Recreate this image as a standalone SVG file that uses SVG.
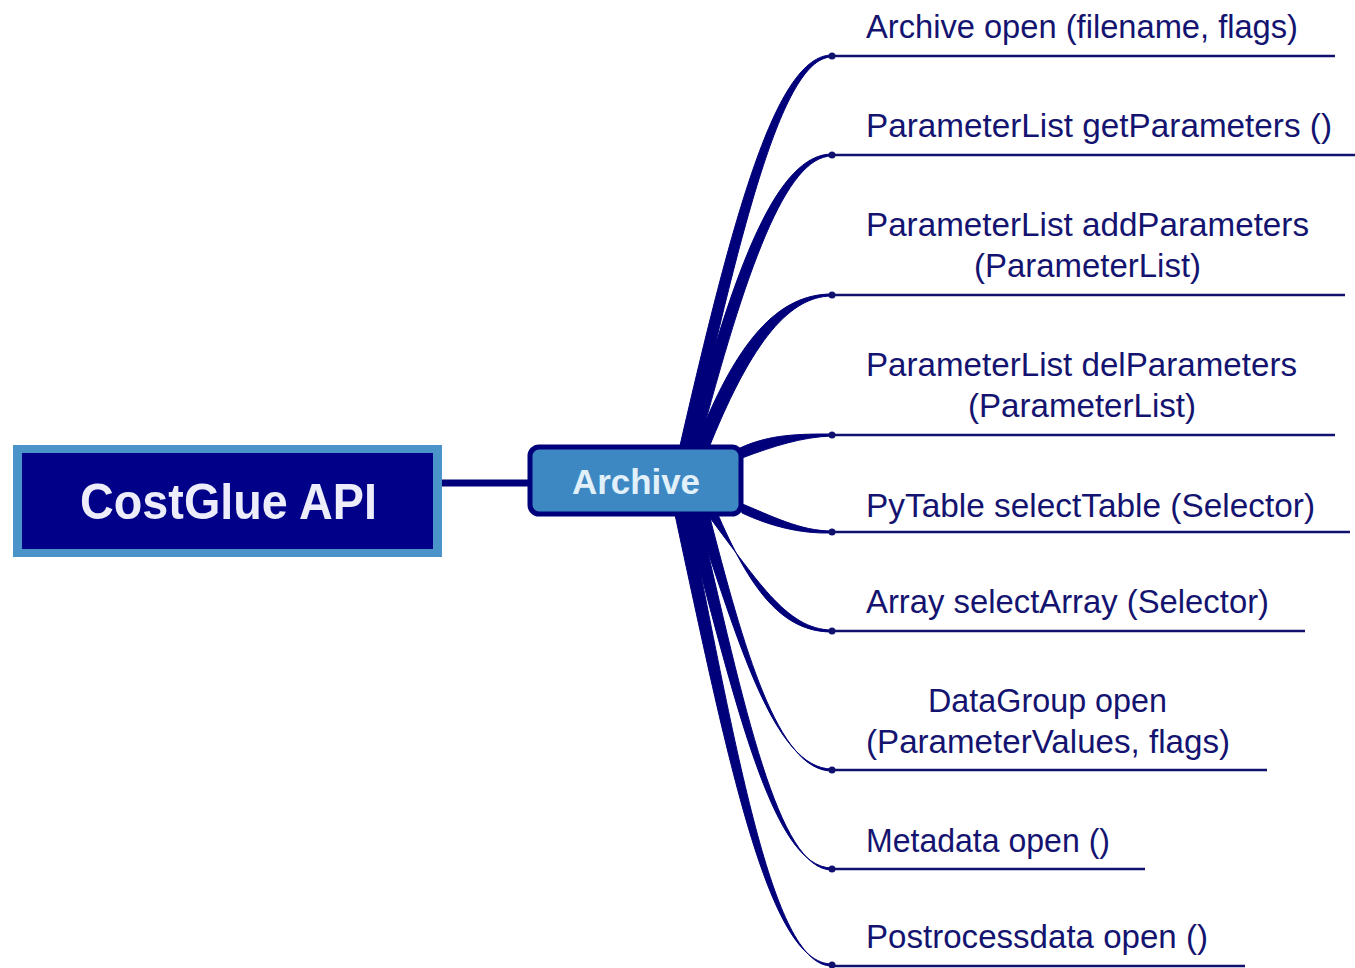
<svg xmlns="http://www.w3.org/2000/svg" width="1355" height="968" viewBox="0 0 1355 968">
  <defs>
    <style>
      .branch { fill: #00007a; stroke: #00007a; stroke-width: 1; stroke-linejoin: round; }
      .rule { stroke: #10106e; stroke-width: 2.5; fill: none; }
      .dot { fill: #10106e; }
      .label { font-family: "Liberation Sans", Arial, sans-serif; font-size: 34px; fill: #141470; }
      .title { font-family: "Liberation Sans", Arial, sans-serif; font-weight: bold; }
    </style>
  </defs>
  <rect width="1355" height="968" fill="#ffffff"/>

  <!-- tapered branches from the Archive node to each method -->
  <g id="connectors">
    <line x1="440" y1="483" x2="532" y2="483" stroke="#00007a" stroke-width="7"/>
    <!-- upward branches -->
    <path class="branch" d="M679,450 C733,215 776,55 832,55 L832,57 C784,57 744,215 691,450 Z"/>
    <path class="branch" d="M686,450 C735,262 778,154 832,154 L832,156 C786,156 746,268 698,450 Z"/>
    <path class="branch" d="M694,450 C736,340 778,294 832,294 L832,296 C786,296 748,350 708,450 Z"/>
    <path class="branch" d="M740,448 C770,434 800,434 832,434 L832,436 C802,437 774,446 742,458 Z"/>
    <!-- downward branches -->
    <path class="branch" d="M740,503 C772,516 800,531 832,531 L832,533 C800,534 770,526 742,513 Z"/>
    <path class="branch" d="M704,510 C756,578 786,630 832,630 L832,632 C782,632 750,590 716,510 Z"/>
    <path class="branch" d="M694,510 C738,640 774,769 832,769 L832,771 C778,771 744,650 708,510 Z"/>
    <path class="branch" d="M684,510 C735,700 772,868 832,868 L832,870 C778,870 745,710 698,510 Z"/>
    <path class="branch" d="M674,510 C728,760 768,964 832,964 L832,966 C774,966 740,770 688,510 Z"/>
    <!-- underlines and end dots -->
    <line class="rule" x1="832" y1="56" x2="1335" y2="56"/>
    <line class="rule" x1="832" y1="155" x2="1355" y2="155"/>
    <line class="rule" x1="832" y1="295" x2="1345" y2="295"/>
    <line class="rule" x1="832" y1="435" x2="1335" y2="435"/>
    <line class="rule" x1="832" y1="532" x2="1350" y2="532"/>
    <line class="rule" x1="832" y1="631" x2="1305" y2="631"/>
    <line class="rule" x1="832" y1="770" x2="1267" y2="770"/>
    <line class="rule" x1="832" y1="869" x2="1145" y2="869"/>
    <line class="rule" x1="832" y1="966" x2="1245" y2="966" stroke="#6a6ab0"/>
    <circle class="dot" cx="832" cy="56" r="3.5"/>
    <circle class="dot" cx="832" cy="155" r="3.5"/>
    <circle class="dot" cx="832" cy="295" r="3.5"/>
    <circle class="dot" cx="832" cy="435" r="3.5"/>
    <circle class="dot" cx="832" cy="532" r="3.5"/>
    <circle class="dot" cx="832" cy="631" r="3.5"/>
    <circle class="dot" cx="832" cy="770" r="3.5"/>
    <circle class="dot" cx="832" cy="869" r="3.5"/>
    <circle class="dot" cx="832" cy="965" r="3.5"/>
  </g>

  <g id="costglue-api">
    <rect x="13" y="445" width="429" height="112" fill="#4b94c9"/>
    <rect x="22" y="453" width="411" height="96" fill="#000088"/>
    <text class="title" x="80" y="519" font-size="50" fill="#ececfa" textLength="297" lengthAdjust="spacingAndGlyphs">CostGlue API</text>
  </g>

  <g id="archive">
    <rect x="530" y="447" width="211" height="67" rx="9" fill="#3d88c2" stroke="#00007a" stroke-width="5"/>
    <text class="title" x="572" y="494" font-size="35" fill="#e2f0fa" textLength="128" lengthAdjust="spacingAndGlyphs">Archive</text>
  </g>

  <g id="m-archive-open">
    <text class="label" x="866" y="38" textLength="432" lengthAdjust="spacingAndGlyphs">Archive open (filename, flags)</text>
  </g>
  <g id="m-get-parameters">
    <text class="label" x="866" y="137" textLength="466" lengthAdjust="spacingAndGlyphs">ParameterList getParameters ()</text>
  </g>
  <g id="m-add-parameters">
    <text class="label" x="866" y="236" textLength="443" lengthAdjust="spacingAndGlyphs">ParameterList addParameters</text>
    <text class="label" x="974" y="277" textLength="227" lengthAdjust="spacingAndGlyphs">(ParameterList)</text>
  </g>
  <g id="m-del-parameters">
    <text class="label" x="866" y="376" textLength="431" lengthAdjust="spacingAndGlyphs">ParameterList delParameters</text>
    <text class="label" x="968" y="417" textLength="228" lengthAdjust="spacingAndGlyphs">(ParameterList)</text>
  </g>
  <g id="m-select-table">
    <text class="label" x="866" y="517" textLength="449" lengthAdjust="spacingAndGlyphs">PyTable selectTable (Selector)</text>
  </g>
  <g id="m-select-array">
    <text class="label" x="866" y="613" textLength="403" lengthAdjust="spacingAndGlyphs">Array selectArray (Selector)</text>
  </g>
  <g id="m-datagroup-open">
    <text class="label" x="928" y="712" textLength="239" lengthAdjust="spacingAndGlyphs">DataGroup open</text>
    <text class="label" x="866" y="753" textLength="364" lengthAdjust="spacingAndGlyphs">(ParameterValues, flags)</text>
  </g>
  <g id="m-metadata-open">
    <text class="label" x="866" y="852" textLength="244" lengthAdjust="spacingAndGlyphs">Metadata open ()</text>
  </g>
  <g id="m-postprocess-open">
    <text class="label" x="866" y="948" textLength="342" lengthAdjust="spacingAndGlyphs">Postrocessdata open ()</text>
  </g>
</svg>
